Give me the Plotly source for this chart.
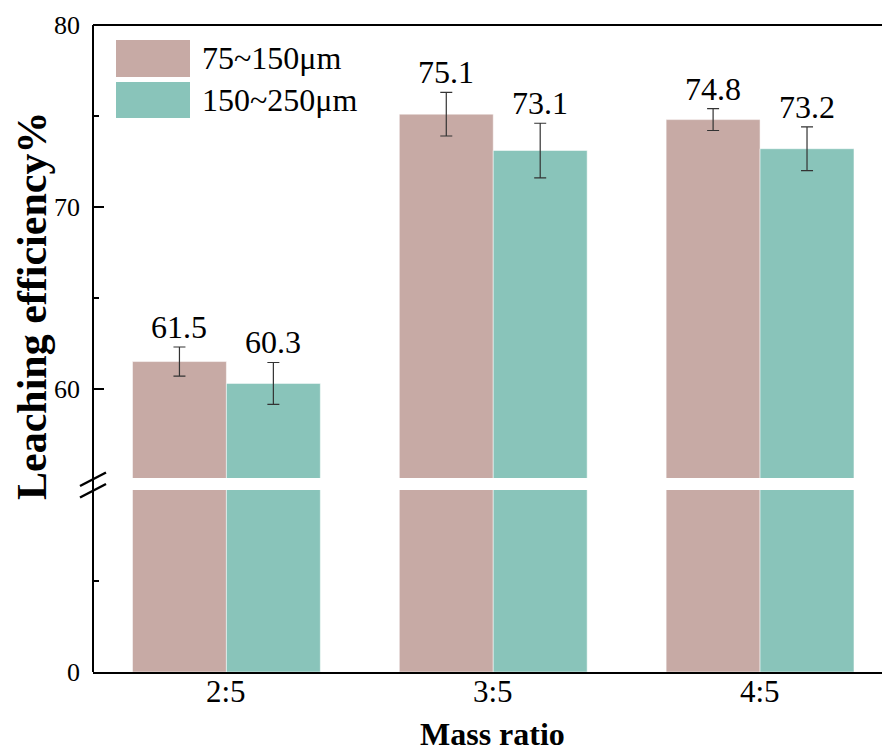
import plotly.graph_objects as go

categories = ["2:5", "3:5", "4:5"]
series_names = ["75~150μm", "150~250μm"]
fine_vals = [61.5, 75.1, 74.8]
fine_err = [0.8, 1.2, 0.6]
coarse_vals = [60.3, 73.1, 73.2]
coarse_err = [1.15, 1.5, 1.2]
colors = ["#C7AAA5", "#89C4BA"]
upper_ticks = [60, 70, 80]
lower_ticks = [0]

W, H = 882, 751
L, R, T, B = 93, 0, 25, 79
PW, PH = W - L - R, H - T - B

def px_x(p):
    return (p - L) / PW

def px_y(p):
    return (H - B - p) / PH

FONT = "Liberation Serif"
upper_dom = [px_y(478), 1]
lower_dom = [0, px_y(490)]

fig = go.Figure()
vals = [fine_vals, coarse_vals]
errs = [fine_err, coarse_err]
for i in range(2):
    fig.add_trace(go.Bar(
        x=categories, y=vals[i], name=series_names[i],
        marker=dict(color=colors[i], line=dict(color="rgba(255,255,255,0.5)", width=1)),
        error_y=dict(type="data", array=errs[i], color="#333333", thickness=1.2, width=6),
        xaxis="x", yaxis="y", showlegend=False, offsetgroup=str(i)))
for i in range(2):
    fig.add_trace(go.Bar(
        x=categories, y=vals[i], name=series_names[i],
        marker=dict(color=colors[i], line=dict(color="rgba(255,255,255,0.5)", width=1)),
        xaxis="x", yaxis="y2", showlegend=False, offsetgroup=str(i)))

# value labels
offsets = [-0.1762, 0.1762]
for i in range(2):
    for j, c in enumerate(categories):
        fig.add_annotation(x=j + offsets[i], y=vals[i][j] + errs[i][j], xref="x", yref="y",
                           text=f"{vals[i][j]:.1f}", showarrow=False, yanchor="bottom",
                           yshift=0, font=dict(family=FONT, size=32, color="black"))

# x tick labels as annotations (positioned close to the axis like the reference)
for j, c in enumerate(categories):
    fig.add_annotation(x=j, y=px_y(691), xref="x", yref="paper", text=c, showarrow=False,
                       xanchor="center", yanchor="middle",
                       font=dict(family=FONT, size=31, color="black"))

fig.update_layout(
    width=W, height=H, margin=dict(l=L, r=R, t=T, b=B),
    plot_bgcolor="white", paper_bgcolor="white",
    barmode="group", bargap=0.296, bargroupgap=0,
    xaxis=dict(anchor="y2", range=[-0.5, 2.457], showline=True, linecolor="black", linewidth=2,
               ticks="", showticklabels=False, showgrid=False),
    yaxis=dict(domain=upper_dom, anchor="x", range=[55.1, 80], tickvals=upper_ticks,
               ticks="inside", ticklen=11, tickwidth=2, tickcolor="black",
               minor=dict(dtick=5, tick0=0, ticks="inside", ticklen=6, tickwidth=2, tickcolor="black"),
               showline=False, showgrid=False, zeroline=False,
               tickfont=dict(family=FONT, size=26, color="black"), ticklabelstandoff=12),
    yaxis2=dict(domain=lower_dom, anchor="x", range=[0, 20], tickvals=lower_ticks,
                ticks="inside", ticklen=11, tickwidth=2, tickcolor="black",
                minor=dict(dtick=10, tick0=0, ticks="inside", ticklen=6, tickwidth=2, tickcolor="black"),
                showline=False, showgrid=False, zeroline=False,
                tickfont=dict(family=FONT, size=26, color="black"), ticklabelstandoff=12),
)

# axis frame lines
fig.add_shape(type="line", xref="paper", yref="paper", x0=0, x1=0, y0=0, y1=1,
              line=dict(color="black", width=2))
fig.add_shape(type="line", xref="paper", yref="paper", x0=0, x1=1, y0=1, y1=1,
              line=dict(color="black", width=2))
# break marks
for y0p, y1p in [(486, 472.5), (497.5, 484)]:
    fig.add_shape(type="line", xref="paper", yref="paper", x0=px_x(80), x1=px_x(106),
                  y0=px_y(y0p), y1=px_y(y1p), line=dict(color="black", width=2.5))

# legend
leg_rows = [(40, 77), (82, 118)]
for i in range(2):
    a, b = leg_rows[i]
    fig.add_shape(type="rect", xref="paper", yref="paper", x0=px_x(116), x1=px_x(190),
                  y0=px_y(b), y1=px_y(a), fillcolor=colors[i], line=dict(width=0))
    fig.add_annotation(x=px_x(200), y=px_y((a + b) / 2), xref="paper", yref="paper",
                       text=series_names[i], showarrow=False, xanchor="left", yanchor="middle",
                       font=dict(family=FONT, size=32, color="black"))

# axis titles
fig.add_annotation(x=px_x(492), y=px_y(734), xref="paper", yref="paper", text="<b>Mass ratio</b>",
                   showarrow=False, xanchor="center", yanchor="middle",
                   font=dict(family=FONT, size=32, color="black"))
fig.add_annotation(x=px_x(32), y=px_y(306), xref="paper", yref="paper",
                   text="<b>Leaching efficiency%</b>", showarrow=False, textangle=-90,
                   xanchor="center", yanchor="middle",
                   font=dict(family=FONT, size=42, color="black"))

fig.write_html("out.html")
